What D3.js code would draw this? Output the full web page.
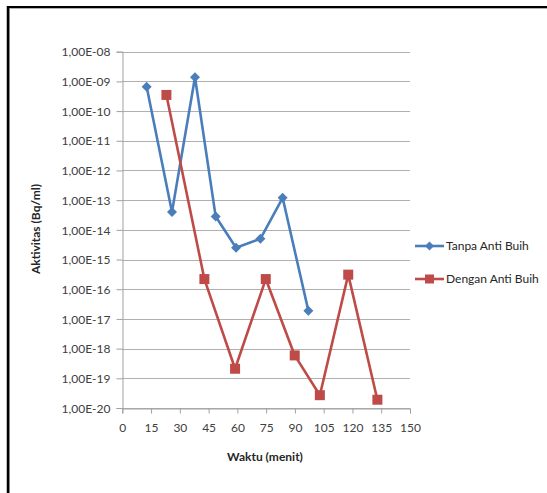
<!DOCTYPE html>
<html><head><meta charset="utf-8">
<script src="https://cdn.jsdelivr.net/npm/d3@7"></script>
<style>body{margin:0;background:#fff}svg{display:block;font-family:Lato,"Open Sans",sans-serif}</style>
</head><body>
<svg id="c" width="547" height="493"></svg>
<script>
const xTicks = [0,15,30,45,60,75,90,105,120,135,150];
const yTicks = [1e-20,1e-19,1e-18,1e-17,1e-16,1e-15,1e-14,1e-13,1e-12,1e-11,1e-10,1e-9,1e-8];
const tanpaX = [12.7, 25.9, 37.9, 48.7, 59.3, 72, 83.6, 97];
const tanpaY = [6.6e-10, 4e-14, 1.38e-9, 2.8e-14, 2.5e-15, 5e-15, 1.2e-13, 1.9e-17];
const denganX = [23, 42.8, 58.8, 74.8, 89.9, 103, 117.8, 133];
const denganY = [3.5e-10, 2.2e-16, 2.1e-19, 2.2e-16, 5.9e-19, 2.7e-20, 3.1e-16, 1.9e-20];
const seriesNames = ["Tanpa Anti Buih", "Dengan Anti Buih"];

const svg = d3.select("#c");
// frame
svg.append("rect").attr("x",9).attr("y",8).attr("width",540).attr("height",490).attr("fill","none").attr("stroke","#b0b0b0").attr("stroke-width",2);
svg.append("line").attr("x1",8).attr("x2",547).attr("y1",7).attr("y2",7).attr("stroke","#000").attr("stroke-width",2);
svg.append("line").attr("x1",8).attr("x2",8).attr("y1",6).attr("y2",493).attr("stroke","#000").attr("stroke-width",2.5);

const x = d3.scaleLinear().domain([0,150]).range([122.3,410]);
const y = d3.scaleLog().domain([1e-20,1e-8]).range([408,51.7]);

// gridlines
svg.append("g").selectAll("line").data(yTicks).join("line")
  .attr("x1",x(0)).attr("x2",x(150)).attr("y1",d=>Math.round(y(d))+0.5).attr("y2",d=>Math.round(y(d))+0.5)
  .attr("stroke","#b0b0b0").attr("stroke-width",1);

const fmt = d => "1,00E-" + String(Math.round(-Math.log10(d))).padStart(2,"0");

const yAxis = svg.append("g").attr("transform",`translate(${Math.round(x(0))+0.5},0)`)
  .call(d3.axisLeft(y).tickValues(yTicks).tickFormat(fmt).tickSize(6).tickPadding(6));
const xAxis = svg.append("g").attr("transform",`translate(0,${Math.round(y(1e-20))+0.5})`)
  .call(d3.axisBottom(x).tickValues(xTicks).tickSize(5).tickPadding(10));
[yAxis,xAxis].forEach(a=>{
  a.select(".domain").attr("stroke","#a0a0a0");
  a.selectAll(".tick line").attr("stroke","#a0a0a0");
  a.selectAll("text").attr("fill","#404040").style("font-size","12px").style("font-family","Lato, 'Open Sans', sans-serif");
});
yAxis.selectAll(".tick text").attr("dy","0.35em");

// axis titles
svg.append("text").attr("transform","translate(40,229) rotate(-90)").attr("text-anchor","middle")
  .attr("font-weight","bold").attr("font-size","12px").attr("fill","#262626").text("Aktivitas (Bq/ml)");
svg.append("text").attr("x",265).attr("y",461).attr("text-anchor","middle")
  .attr("font-weight","bold").attr("font-size","12px").attr("fill","#262626").text("Waktu (menit)");

const line = d3.line().x(d=>x(d[0])).y(d=>y(d[1]));
const blue = "#4A7EBB", red = "#BE4B48";
const tanpa = tanpaX.map((v,i)=>[v,tanpaY[i]]);
const dengan = denganX.map((v,i)=>[v,denganY[i]]);

svg.append("path").datum(tanpa).attr("d",line).attr("fill","none").attr("stroke",blue).attr("stroke-width",2.6).attr("stroke-linejoin","round");
svg.append("path").datum(dengan).attr("d",line).attr("fill","none").attr("stroke",red).attr("stroke-width",2.6).attr("stroke-linejoin","round");

const diamond = (g,cx,cy,s) => g.append("path").attr("d",`M${cx},${cy-s}L${cx+s},${cy}L${cx},${cy+s}L${cx-s},${cy}Z`).attr("fill",blue);
const square = (g,cx,cy,s) => g.append("rect").attr("x",cx-s).attr("y",cy-s).attr("width",2*s).attr("height",2*s).attr("fill",red);

const mk = svg.append("g");
tanpa.forEach(d=>diamond(mk,x(d[0]),y(d[1]),5));
dengan.forEach(d=>square(mk,x(d[0]),y(d[1]),5));

// legend
const lg = svg.append("g");
[[blue,246],[red,279]].forEach(([c,ly],i)=>{
  lg.append("line").attr("x1",415).attr("x2",444).attr("y1",ly).attr("y2",ly).attr("stroke",c).attr("stroke-width",2.6);
  if(i===0) diamond(lg,429.5,ly,4.5); else square(lg,429.5,ly,4.5);
  lg.append("text").attr("x",446).attr("y",ly).attr("dy","0.35em").attr("font-size","12px").attr("fill","#262626").text(seriesNames[i]);
});
</script>
</body></html>
